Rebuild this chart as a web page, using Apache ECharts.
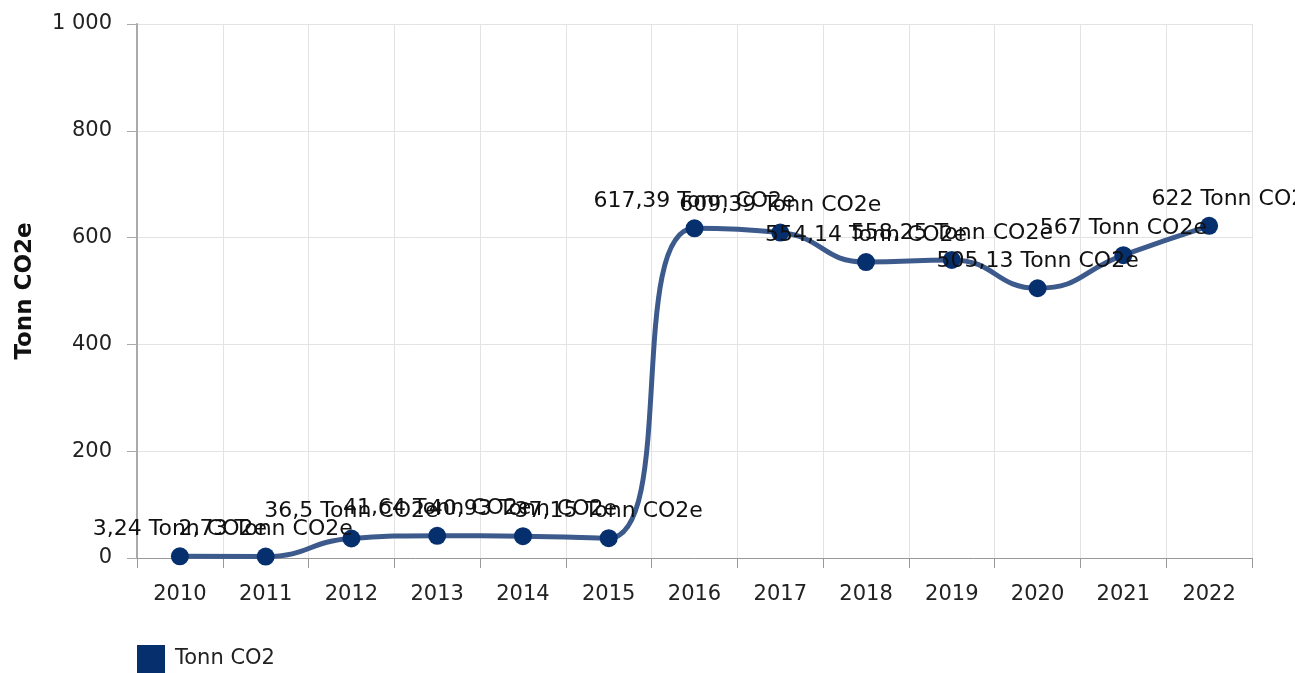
<!DOCTYPE html>
<html>
<head>
<meta charset="utf-8">
<script src="https://cdn.jsdelivr.net/npm/echarts@6/dist/echarts.min.js"></script>
<style>
  html, body { margin: 0; padding: 0; background: #fff; }
  #chart { width: 1295px; height: 673px; }
</style>
</head>
<body>
<div id="chart"></div>
<script>
const years = ['2010', '2011', '2012', '2013', '2014', '2015', '2016', '2017', '2018', '2019', '2020', '2021', '2022'];
const emissions = [3.24, 2.73, 36.5, 41.64, 40.93, 37.15, 617.39, 609.39, 554.14, 558.25, 505.13, 567, 622];
const seriesName = 'Tonn CO2';
const unitLabel = 'Tonn CO2e';

const fmtNum = v => String(v).replace('.', ',');
const fmtTick = v => String(v).replace(/\B(?=(\d{3})+(?!\d))/g, ' ');

const lastIdx = emissions.length - 1;

const chart = echarts.init(document.getElementById('chart'));

chart.setOption({
    animation: false,
    textStyle: { fontFamily: 'DejaVu Sans' },
    grid: { left: 137, right: 43, top: 24, bottom: 115 },
    legend: {
        left: 132,
        top: 640,
        icon: 'rect',
        itemWidth: 28,
        itemHeight: 28,
        textStyle: { fontSize: 21, color: '#222', padding: [0, 0, 0, 5] },
        data: [seriesName]
    },
    xAxis: {
        type: 'category',
        data: years,
        boundaryGap: true,
        axisLine: { lineStyle: { color: '#999' } },
        axisTick: { show: true, length: 10, lineStyle: { color: '#999' } },
        axisLabel: { fontSize: 21, color: '#222', margin: 26 },
        splitLine: { show: true, lineStyle: { color: '#e3e3e3' } }
    },
    yAxis: {
        type: 'value',
        min: 0,
        max: 1000,
        interval: 200,
        name: unitLabel,
        nameLocation: 'middle',
        nameGap: 100,
        nameTextStyle: { fontSize: 23, fontWeight: 'bold', color: '#111' },
        axisLine: { show: true, lineStyle: { color: '#aaa', width: 2 } },
        axisTick: { show: true, length: 10, lineStyle: { color: '#aaa' } },
        axisLabel: { fontSize: 21, color: '#222', margin: 25, formatter: fmtTick },
        splitLine: { lineStyle: { color: '#e3e3e3' } }
    },
    series: [{
        name: seriesName,
        type: 'line',
        data: emissions,
        smooth: 0.5,
        symbol: 'circle',
        symbolSize: 18,
        itemStyle: { color: '#062f6e' },
        lineStyle: { color: '#3d5a8c', width: 5 },
        label: {
            show: true,
            position: 'top',
            distance: 7,
            fontSize: 22,
            color: '#111',
            formatter: p => fmtNum(p.value) + ' ' + unitLabel
        },
        // last label runs off the right edge in the original
        labelLayout: p => p.dataIndex === lastIdx
            ? { dx: 26, hideOverlap: false }
            : { hideOverlap: false }
    }]
});
</script>
</body>
</html>
